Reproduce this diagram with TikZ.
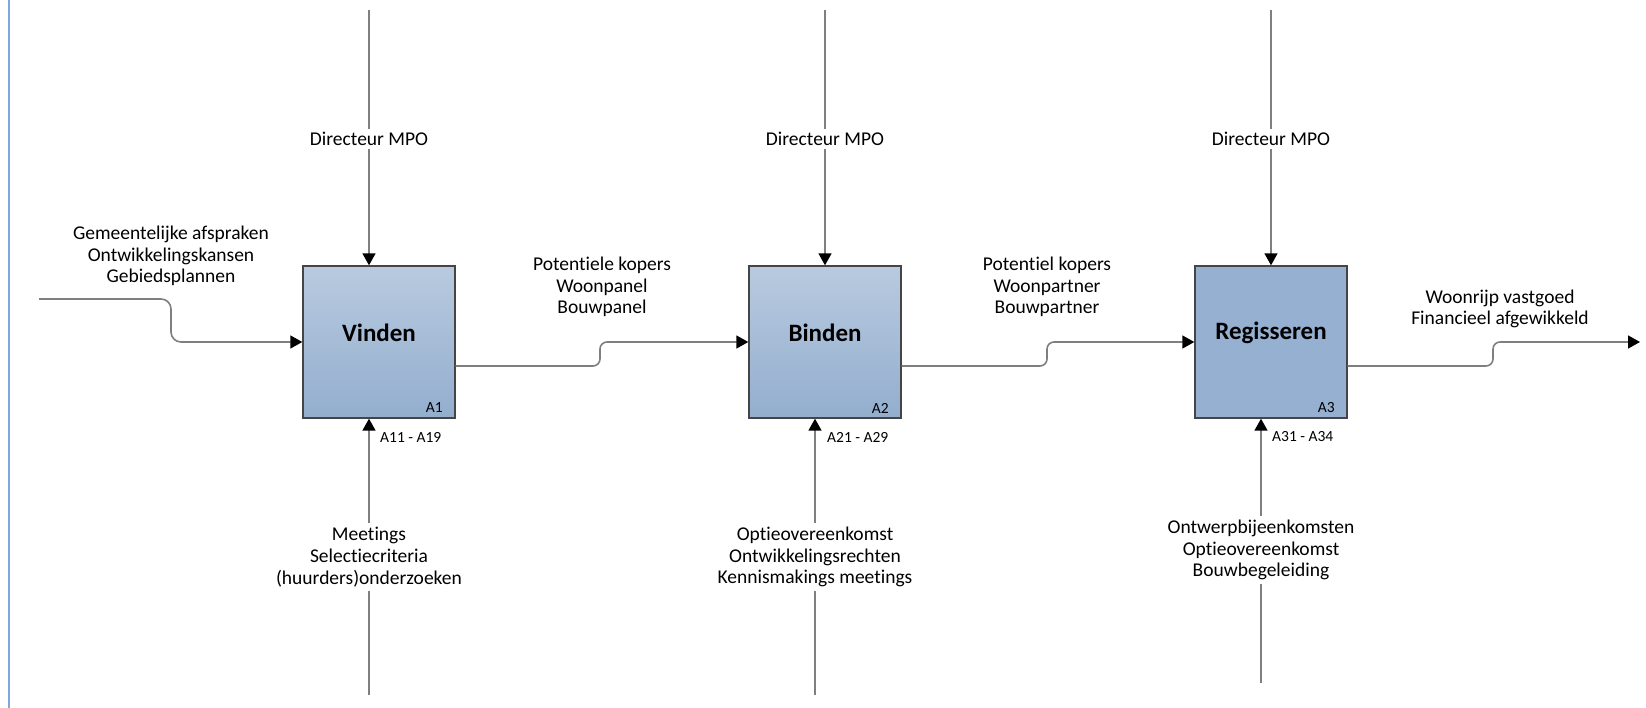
\documentclass[tikz,border=0pt]{standalone}
\usepackage{fontspec}
\setmainfont{Carlito}[Ligatures=NoCommon]
\usetikzlibrary{arrows.meta}
\definecolor{linegray}{HTML}{7F7F7F}
\definecolor{boxtop}{HTML}{B9CADF}
\definecolor{boxbot}{HTML}{93AECE}
\definecolor{boxflat}{HTML}{95B0D1}
\definecolor{edgeblue}{HTML}{7EA6E0}
\definecolor{boxedge}{HTML}{454545}

\begin{document}
\begin{tikzpicture}[x=1pt,y=-1pt,
  flow/.style={draw=linegray, line width=1.6pt, -{Triangle[length=12pt,width=13pt,color=black]}},
  plain/.style={draw=linegray, line width=1.6pt},
  act/.style={draw=boxedge, line width=1.4pt, minimum width=152pt, minimum height=152pt, inner sep=0pt},
  actshade/.style={act, top color=boxtop, bottom color=boxbot},
  actflat/.style={act, fill=boxflat},
  lbl/.style={align=center, font=\fontsize{19.5}{21.8}\selectfont, inner xsep=2pt, inner ysep=3.5pt},
  title/.style={font=\fontsize{25}{30}\selectfont\bfseries, inner sep=0pt},
  code/.style={font=\fontsize{15.5}{17}\selectfont, inner sep=0pt}
]
\useasboundingbox (0,0) rectangle (1646,708);

% left page edge
\draw[edgeblue, line width=2.5pt] (9,0) -- (9,708);

% activity boxes
\node[actshade] (A1) at (379,342) {};
\node[actshade] (A2) at (825,342) {};
\node[actflat]  (A3) at (1271,342) {};

\node[title] (t1) at (379,333) {Vinden};
\node[title] (t2) at (825,333) {Binden};
\node[title] (t3) at (1271,333) {Regisseren};

\node[code, anchor=east] (n1) at (443,408) {A1};
\node[code, anchor=east] (n2) at (889,408) {A2};
\node[code, anchor=east] (n3) at (1335,408) {A3};

% controls
\foreach \i/\x in {1/369, 2/825, 3/1271} {
  \coordinate (ct\i) at (\x,10);
  \node[lbl] (c\i) at (\x,139) {Directeur MPO};
  \draw[plain] (ct\i) -- (c\i);
  \draw[flow] (c\i) -- (c\i |- A\i.north);
}

% mechanisms
\coordinate (mb1) at (369,695);
\node[lbl] (m1) at (369,557) {Meetings\\Selectiecriteria\\(huurders)onderzoeken};
\coordinate (mb2) at (815,695);
\node[lbl] (m2) at (815,557) {Optieovereenkomst\\Ontwikkelingsrechten\\Kennismakings meetings};
\coordinate (mb3) at (1261,683);
\node[lbl] (m3) at (1261,550) {Ontwerpbijeenkomsten\\Optieovereenkomst\\Bouwbegeleiding};
\foreach \i in {1,2,3} {
  \draw[plain] (mb\i) -- (m\i);
  \draw[flow] (m\i) -- (m\i |- A\i.south);
}
\node[code, anchor=west] (r1) at (380,437) {A11 - A19};
\node[code, anchor=west] (r2) at (827,437) {A21 - A29};
\node[code, anchor=west] (r3) at (1272,437) {A31 - A34};

% input
\coordinate (in) at (39,299);
\node[lbl, inner ysep=0pt] (il) at (171,256) {Gemeentelijke afspraken\\Ontwikkelingskansen\\Gebiedsplannen};
\draw[flow, rounded corners=10pt] (in) -- (171,299) -- (171,342) -- (A1.west);

% outputs
\node[lbl, inner ysep=0pt] (o1) at (602,287) {Potentiele kopers\\Woonpanel\\Bouwpanel};
\draw[flow, rounded corners=7pt] ([yshift=-24pt]A1.east) -- (600,366) -- (600,342) -- (A2.west);

\node[lbl, inner ysep=0pt] (o2) at (1047,287) {Potentiel kopers\\Woonpartner\\Bouwpartner};
\draw[flow, rounded corners=7pt] ([yshift=-24pt]A2.east) -- (1047,366) -- (1047,342) -- (A3.west);

\node[lbl, inner ysep=0pt] (o3) at (1500,309) {Woonrijp vastgoed\\Financieel afgewikkeld};
\coordinate (out) at (1640,342);
\draw[flow, rounded corners=7pt] ([yshift=-24pt]A3.east) -- (1493,366) -- (1493,342) -- (out);
\end{tikzpicture}
\end{document}
